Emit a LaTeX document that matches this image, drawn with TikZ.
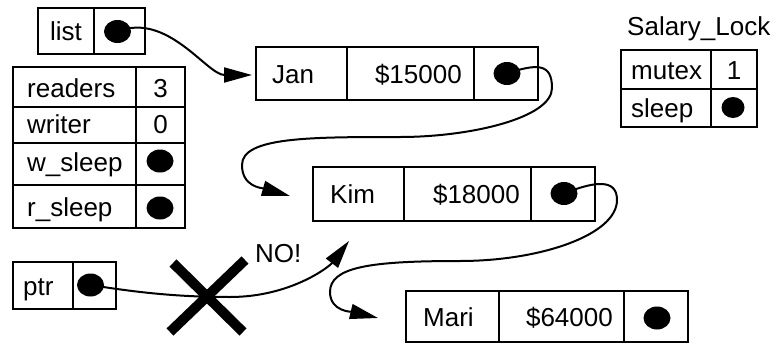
\documentclass[tikz,border=0pt]{standalone}
\usepackage{fontspec}
\setmainfont{Liberation Sans}
\usetikzlibrary{arrows.meta,shapes.geometric}
\begin{document}
\begin{tikzpicture}[x=1pt,y=-1pt,
  font=\fontsize{26}{30}\selectfont,
  box/.style={draw, line width=2.4pt, inner sep=0pt, outer sep=0pt, anchor=north west},
  dot/.style={ellipse, fill=black, inner sep=0pt, minimum width=27pt, minimum height=23pt},
  sdot/.style={dot, minimum width=23pt, minimum height=21pt},
  lbl/.style={inner sep=0pt, anchor=base west},
  val/.style={inner sep=0pt, anchor=base east},
  mid/.style={inner sep=0pt, anchor=base},
  link/.style={line width=2pt, -{Triangle[length=28pt,width=15pt]}},
  cross/.style={line width=10pt}]
\useasboundingbox (0,0) rectangle (777,343);

% list
\node[box, minimum width=56pt, minimum height=46pt] (listL) at (38,8) {};
\node[box, minimum width=51pt, minimum height=46pt] (listP) at (94,8) {};
\node[lbl] (listT) at (50,40) {list};
\node[dot] (ldot) at (117.5,31.5) {};

% reader/writer table
\node[box, minimum width=123pt, minimum height=40pt] (r1L) at (13,67) {};
\node[box, minimum width=49pt, minimum height=40pt] (r1R) at (136,67) {};
\node[box, minimum width=123pt, minimum height=36pt] (r2L) at (13,107) {};
\node[box, minimum width=49pt, minimum height=36pt] (r2R) at (136,107) {};
\node[box, minimum width=123pt, minimum height=42pt] (r3L) at (13,143) {};
\node[box, minimum width=49pt, minimum height=42pt] (r3R) at (136,143) {};
\node[box, minimum width=123pt, minimum height=43pt] (r4L) at (13,185) {};
\node[box, minimum width=49pt, minimum height=43pt] (r4R) at (136,185) {};
\node[lbl] (t1) at (27,97) {readers};
\node[lbl] (t2) at (27,133) {writer};
\node[lbl] (t3) at (27,171) {w\_sleep};
\node[lbl] (t4) at (27,216) {r\_sleep};
\node[mid] (v1) at (160.5,97) {3};
\node[mid] (v2) at (160.5,133) {0};
\node[dot] (wdot) at (160,161) {};
\node[dot] (rdot) at (160,208) {};

% ptr
\node[box, minimum width=60pt, minimum height=47pt] (ptrL) at (13,262) {};
\node[box, minimum width=43pt, minimum height=47pt] (ptrP) at (73,262) {};
\node[lbl] (ptrT) at (23,295) {ptr};
\node[dot] (pdot) at (90.5,285) {};

% Jan
\node[box, minimum width=91pt, minimum height=53pt] (janA) at (256,47) {};
\node[box, minimum width=127pt, minimum height=53pt] (janB) at (347,47) {};
\node[box, minimum width=64pt, minimum height=53pt] (janC) at (474,47) {};
\node[lbl] (janT) at (272,83) {Jan};
\node[val] (janS) at (462,83) {\$15000};
\node[dot] (jdot) at (507,73.5) {};

% Kim
\node[box, minimum width=91pt, minimum height=54pt] (kimA) at (313,167) {};
\node[box, minimum width=127pt, minimum height=54pt] (kimB) at (404,167) {};
\node[box, minimum width=64pt, minimum height=54pt] (kimC) at (531,167) {};
\node[lbl] (kimT) at (330,203) {Kim};
\node[val] (kimS) at (520,203) {\$18000};
\node[dot] (kdot) at (564,193.5) {};

% Mari
\node[box, minimum width=93pt, minimum height=51pt] (marA) at (406,291) {};
\node[box, minimum width=125pt, minimum height=51pt] (marB) at (499,291) {};
\node[box, minimum width=64pt, minimum height=51pt] (marC) at (624,291) {};
\node[lbl] (marT) at (423,326) {Mari};
\node[val] (marS) at (613,326) {\$64000};
\node[dot] (mdot) at (657,318) {};

% Salary_Lock
\node[lbl] (slT) at (627,35) {Salary\_Lock};
\node[box, minimum width=90pt, minimum height=39pt] (s1L) at (621,50) {};
\node[box, minimum width=46pt, minimum height=39pt] (s1R) at (711,50) {};
\node[box, minimum width=90pt, minimum height=38pt] (s2L) at (621,89) {};
\node[box, minimum width=46pt, minimum height=38pt] (s2R) at (711,89) {};
\node[lbl] (smT) at (631,79) {mutex};
\node[lbl] (ssT) at (631,117) {sleep};
\node[mid] (smV) at (734,79) {1};
\node[sdot] (sdot) at (733,107.5) {};

% list -> Jan
\coordinate (jtip) at (252,75);
\draw[link] (ldot.center) .. controls +(50,-20) and +(-45,0) .. (jtip);

% Jan -> Kim
\coordinate (a1) at (552,88);
\coordinate (a2) at (400,137);
\coordinate (a3) at (242,165);
\coordinate (ktip) at (290,196);
\draw[link] (jdot.center) .. controls +(30,-10) and +(0,-25) .. (a1)
  .. controls +(0,30) and +(70,0) .. (a2)
  .. controls +(-90,0) and +(0,-28) .. (a3)
  .. controls +(0,22) and +(-28,-8) .. (ktip);

% Kim -> Mari
\coordinate (b1) at (617,200);
\coordinate (b2) at (460,261);
\coordinate (b3) at (330,292);
\coordinate (mtip) at (378,318);
\draw[link] (kdot.center) .. controls +(30,-12) and +(0,-22) .. (b1)
  .. controls +(0,35) and +(80,0) .. (b2)
  .. controls +(-90,0) and +(0,-25) .. (b3)
  .. controls +(0,20) and +(-25,-6) .. (mtip);

% ptr -> Kim (forbidden)
\coordinate (u1) at (230,297);
\coordinate (ptip) at (349,241);
\draw[link] (pdot.center) .. controls +(50,8) and +(-50,0) .. (u1)
  .. controls +(60,0) and +(-20,26) .. (ptip);
\node[lbl] (no) at (255,262) {NO!};

% big cross
\coordinate (xc) at (208,297);
\draw[cross] (xc) +(-35,-34) -- +(35,35);
\draw[cross] (xc) +(37,-37) -- +(-38,35);
\end{tikzpicture}
\end{document}
